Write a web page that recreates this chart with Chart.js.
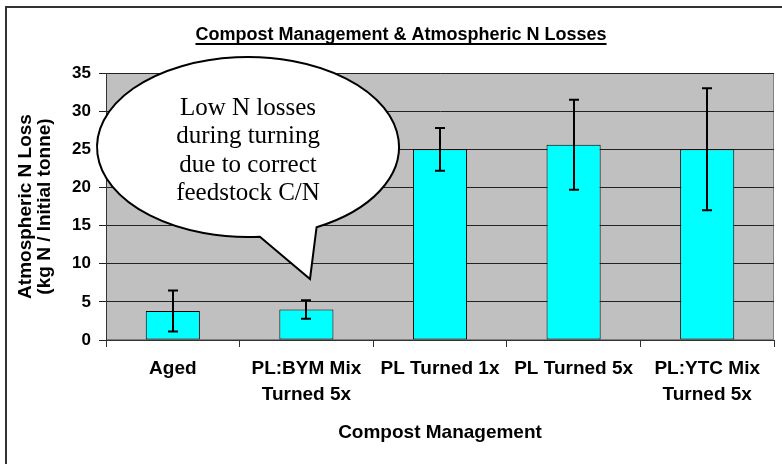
<!DOCTYPE html>
<html><head><meta charset="utf-8">
<script src="https://cdn.jsdelivr.net/npm/chart.js@4/dist/chart.umd.min.js"></script>
<style>html,body{margin:0;padding:0;background:#fff;}#wrap{width:782px;height:464px;}</style>
</head><body><div id="wrap"><canvas id="c" width="782" height="464"></canvas></div>
<script>
// ---- data ----
const chartTitle = 'Compost Management & Atmospheric N Losses';
const categories = [['Aged'], ['PL:BYM Mix', 'Turned 5x'], ['PL Turned 1x'], ['PL Turned 5x'], ['PL:YTC Mix', 'Turned 5x']];
const nLoss = [3.8, 4.0, 25.0, 25.6, 25.0];
const nLossError = [2.7, 1.2, 2.8, 5.9, 8.0];
const yMin = 0, yMax = 35, yStep = 5;
const xAxisTitle = 'Compost Management';
const yAxisTitle = ['Atmospheric N Loss', '(kg N / Initial tonne)'];
const calloutLines = ['Low N losses', 'during turning', 'due to correct', 'feedstock C/N'];
// callout anchored in data space (category index, value)
const calloutCenter = {cat: 0.563, val: 25.3};
const calloutTip = {cat: 1.027, val: 8.0};

const FONT = '"Liberation Sans", Arial, sans-serif';
const SERIF = '"Liberation Serif", "Times New Roman", serif';

const framePlugin = {
  id: 'frame',
  beforeDraw(chart) {
    const {ctx, chartArea: a} = chart;
    ctx.save();
    ctx.fillStyle = '#fff';
    ctx.fillRect(0, 0, chart.width, chart.height);
    ctx.fillStyle = '#C0C0C0';
    ctx.fillRect(a.left, a.top, a.right - a.left, a.bottom - a.top);
    ctx.strokeStyle = '#808080';
    ctx.lineWidth = 1;
    ctx.strokeRect(a.left + 0.5, a.top + 0.5, a.right - a.left - 1, a.bottom - a.top - 1);
    ctx.strokeStyle = '#333';
    ctx.lineWidth = 2;
    ctx.strokeRect(6, 7, 820, 520);
    // title
    ctx.fillStyle = '#000';
    ctx.font = 'bold 18px ' + FONT;
    ctx.textAlign = 'center';
    ctx.textBaseline = 'alphabetic';
    const tx = 401, ty = 40;
    ctx.fillText(chartTitle, tx, ty);
    const w = ctx.measureText(chartTitle).width;
    ctx.fillRect(tx - w / 2, ty + 3, w, 2);
    ctx.restore();
  }
};

const errorBarPlugin = {
  id: 'errbars',
  afterDatasetsDraw(chart) {
    const {ctx} = chart;
    const y = chart.scales.y;
    const meta = chart.getDatasetMeta(0);
    ctx.save();
    ctx.strokeStyle = '#000';
    ctx.lineWidth = 2;
    meta.data.forEach((bar, i) => {
      const v = nLoss[i], e = nLossError[i];
      const yt = y.getPixelForValue(v + e), yb = y.getPixelForValue(v - e);
      const x = Math.round(bar.x);
      ctx.beginPath();
      ctx.moveTo(x, yt); ctx.lineTo(x, yb);
      ctx.moveTo(x - 5, yt); ctx.lineTo(x + 5, yt);
      ctx.moveTo(x - 5, yb); ctx.lineTo(x + 5, yb);
      ctx.stroke();
    });
    ctx.restore();
  }
};

const calloutPlugin = {
  id: 'callout',
  afterDraw(chart) {
    const {ctx} = chart;
    const xs = chart.scales.x, ys = chart.scales.y;
    const cx = xs.getPixelForValue(calloutCenter.cat), cy = ys.getPixelForValue(calloutCenter.val);
    const tipX = xs.getPixelForValue(calloutTip.cat), tipY = ys.getPixelForValue(calloutTip.val);
    const rx = 151, ry = 90;
    const a1 = 85.5 * Math.PI / 180, a2 = 63 * Math.PI / 180;
    ctx.save();
    ctx.beginPath();
    ctx.ellipse(cx, cy, rx, ry, 0, a1, a2 + 2 * Math.PI, false);
    ctx.lineTo(tipX, tipY);
    ctx.closePath();
    ctx.fillStyle = '#fff';
    ctx.fill();
    ctx.strokeStyle = '#000';
    ctx.lineWidth = 2;
    ctx.stroke();
    ctx.fillStyle = '#000';
    ctx.font = '25px ' + SERIF;
    ctx.textAlign = 'center';
    ctx.textBaseline = 'alphabetic';
    calloutLines.forEach((t, i) => ctx.fillText(t, cx, cy - 32 + i * 28.5));
    ctx.restore();
  }
};

new Chart(document.getElementById('c'), {
  type: 'bar',
  data: {
    labels: categories,
    datasets: [{
      data: nLoss,
      backgroundColor: '#00FFFF',
      borderColor: '#000',
      borderWidth: 1,
      borderSkipped: false,
      categoryPercentage: 1,
      barPercentage: 0.405
    }]
  },
  options: {
    responsive: false,
    animation: false,
    devicePixelRatio: 1,
    layout: {padding: {top: 73, right: 8, left: 0, bottom: 0}},
    plugins: {legend: {display: false}, title: {display: false}, tooltip: {enabled: false}},
    scales: {
      x: {
        grid: {display: true, drawOnChartArea: false, tickLength: 7, color: '#333', offset: true},
        border: {display: true, color: '#333', width: 1},
        ticks: {font: {family: FONT, size: 19, weight: 'bold', lineHeight: 1.37}, color: '#000', padding: 9, maxRotation: 0, minRotation: 0, autoSkip: false},
        title: {display: true, text: xAxisTitle, color: '#000', font: {family: FONT, size: 19, weight: 'bold'}, padding: {top: 0, bottom: 19.6}},
        afterFit(s) { s.height = 124; }
      },
      y: {
        min: yMin, max: yMax,
        ticks: {stepSize: yStep, font: {family: FONT, size: 17, weight: 'bold'}, color: '#000', padding: 8},
        grid: {color: '#222', tickLength: 7},
        border: {color: '#333', width: 1},
        title: {display: true, text: yAxisTitle, color: '#000', font: {family: FONT, size: 19, weight: 'bold', lineHeight: 1.0}, padding: {top: 16.5, bottom: 0}},
        afterFit(s) { s.width = 106; }
      }
    }
  },
  plugins: [framePlugin, errorBarPlugin, calloutPlugin]
});
</script>
</body></html>
